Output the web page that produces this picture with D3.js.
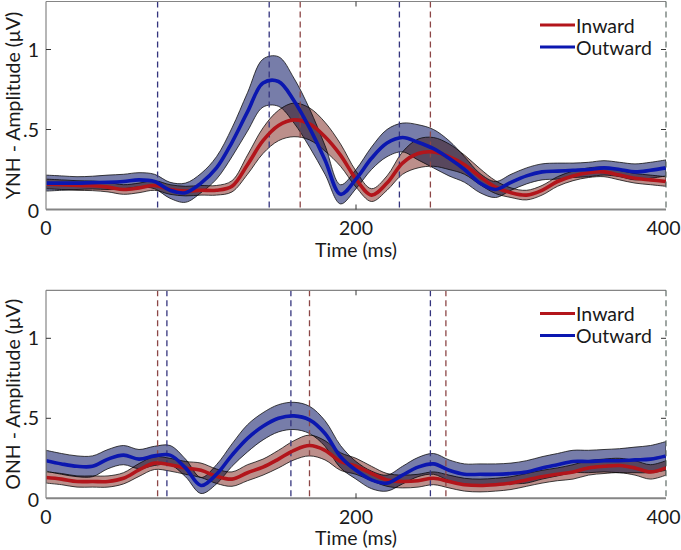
<!DOCTYPE html>
<html><head><meta charset="utf-8">
<script src="https://cdn.jsdelivr.net/npm/d3@7"></script>
<style>
body{margin:0;background:#fff}
svg{display:block}
text{font-family:Lato,"Open Sans",sans-serif;fill:#1a1a1a;font-size:19.5px}
</style>
</head><body>
<svg id="chart" width="681" height="550"></svg>
<script>
// ---------- data ----------
const timeMs = [0,10,20,30,40,50,60,70,80,90,100,110,120,130,140,150,160,170,180,190,200,
                210,220,230,240,250,260,270,280,290,300,310,320,330,340,350,360,370,380,390,400];

const ynhInMean  = [0.16,0.155,0.15,0.148,0.14,0.125,0.135,0.15,0.125,0.115,0.12,0.12,0.145,0.28,0.43,0.525,0.56,0.535,0.455,0.34,0.19,
                    0.09,0.165,0.29,0.35,0.36,0.33,0.28,0.205,0.14,0.105,0.09,0.12,0.175,0.21,0.23,0.235,0.215,0.195,0.185,0.175];
const ynhInHW    = [0.03,0.03,0.03,0.03,0.03,0.03,0.03,0.03,0.03,0.03,0.03,0.03,0.035,0.06,0.08,0.095,0.105,0.1,0.09,0.07,0.05,
                    0.04,0.045,0.07,0.09,0.09,0.08,0.06,0.05,0.04,0.03,0.03,0.03,0.03,0.03,0.03,0.03,0.03,0.03,0.03,0.03];
const ynhOutMean = [0.165,0.165,0.165,0.168,0.17,0.175,0.185,0.175,0.12,0.105,0.165,0.26,0.42,0.61,0.79,0.8,0.68,0.51,0.31,0.095,0.19,
                    0.32,0.415,0.45,0.42,0.38,0.32,0.25,0.165,0.125,0.17,0.21,0.235,0.24,0.245,0.25,0.26,0.25,0.235,0.245,0.26];
const ynhOutHW   = [0.05,0.045,0.04,0.04,0.045,0.045,0.045,0.045,0.05,0.06,0.06,0.07,0.09,0.12,0.15,0.155,0.14,0.12,0.09,0.06,0.06,
                    0.07,0.085,0.09,0.11,0.12,0.11,0.08,0.06,0.05,0.05,0.05,0.05,0.05,0.045,0.045,0.045,0.045,0.05,0.05,0.05];

const onhInMean  = [0.13,0.12,0.105,0.105,0.105,0.125,0.177,0.22,0.21,0.19,0.175,0.138,0.12,0.16,0.195,0.245,0.3,0.33,0.3,0.23,0.2,
                    0.155,0.115,0.105,0.11,0.125,0.105,0.085,0.08,0.085,0.095,0.115,0.135,0.15,0.165,0.19,0.2,0.205,0.19,0.165,0.19];
const onhInHW    = [0.035,0.035,0.035,0.035,0.035,0.035,0.04,0.04,0.04,0.04,0.045,0.045,0.045,0.05,0.05,0.055,0.06,0.065,0.06,0.055,0.05,
                    0.045,0.04,0.04,0.04,0.04,0.04,0.04,0.04,0.04,0.04,0.04,0.04,0.04,0.045,0.045,0.045,0.045,0.045,0.045,0.045];
const onhOutMean = [0.235,0.215,0.2,0.2,0.245,0.27,0.245,0.265,0.27,0.19,0.08,0.15,0.27,0.375,0.45,0.5,0.515,0.49,0.405,0.26,0.175,
                    0.115,0.095,0.145,0.195,0.215,0.175,0.15,0.15,0.15,0.155,0.165,0.19,0.21,0.23,0.23,0.235,0.235,0.24,0.245,0.265];
const onhOutHW   = [0.065,0.065,0.065,0.065,0.06,0.06,0.06,0.06,0.06,0.055,0.05,0.06,0.07,0.085,0.085,0.085,0.085,0.085,0.08,0.07,0.055,
                    0.055,0.05,0.055,0.06,0.065,0.065,0.065,0.065,0.065,0.065,0.07,0.07,0.07,0.07,0.07,0.07,0.075,0.08,0.085,0.09];

const ynhInPeaks  = [164, 248];
const ynhOutPeaks = [72, 144, 228];
const onhInPeaks  = [72, 170, 258];
const onhOutPeaks = [78, 158, 248];

const xTicks = [0, 200, 400];
const xTickLabels = ["0", "200", "400"];
const yTicks = [0, 0.5, 1];
const yTickLabels = ["0", ".5", "1"];
const seriesNames = ["Inward", "Outward"];

// ---------- style ----------
const C = {
  inLine: "#b3151b", outLine: "#0b17b0",
  inFill: "#7a2018", outFill: "#1c2670",
  inDash: "#8c4646", outDash: "#34347e",
  axis: "#858585"
};

const svg = d3.select("#chart");
const X0 = 46, X1 = 666;

const panels = [
  {top: 1.5, bottom: 209.5, label: "YNH - Amplitude (\u03BCV)",
   inM: ynhInMean, inH: ynhInHW, outM: ynhOutMean, outH: ynhOutHW,
   inP: ynhInPeaks, outP: ynhOutPeaks, legY: 25, tickBase: 235, titleBase: 257},
  {top: 290.3, bottom: 498.3, label: "ONH - Amplitude (\u03BCV)",
   inM: onhInMean, inH: onhInHW, outM: onhOutMean, outH: onhOutHW,
   inP: onhInPeaks, outP: onhOutPeaks, legY: 313.5, tickBase: 523.5, titleBase: 545}
];

panels.forEach((p, pi) => {
  const x = d3.scaleLinear().domain([0, 400]).range([X0, X1]);
  const y = d3.scaleLinear().domain([0, 1.3]).range([p.bottom, p.top]);
  const g = svg.append("g");
  const clipId = "clip" + pi;
  svg.append("clipPath").attr("id", clipId).append("rect")
    .attr("x", X0).attr("y", p.top).attr("width", X1 - X0).attr("height", p.bottom - p.top);
  const plot = g.append("g").attr("clip-path", `url(#${clipId})`).style("isolation", "isolate");

  const curve = d3.curveCatmullRom.alpha(0.5);
  const area = (m, h) => d3.area().curve(curve)
      .x((d, i) => x(timeMs[i])).y0((d, i) => y(m[i] - h[i])).y1((d, i) => y(m[i] + h[i]))(m);
  const line = (m) => d3.line().curve(curve).x((d, i) => x(timeMs[i])).y(d => y(d))(m);

  // bands
  plot.append("path").attr("d", area(p.inM, p.inH))
    .attr("fill", C.inFill).attr("fill-opacity", 0.5).attr("stroke", "#111").attr("stroke-width", 0.8);
  plot.append("path").attr("d", area(p.outM, p.outH))
    .attr("fill", C.outFill).attr("fill-opacity", 0.6).style("mix-blend-mode", "multiply")
    .attr("stroke", "#111").attr("stroke-width", 0.8);

  // dashed peak lines
  const vline = (t, col) => plot.append("line")
    .attr("x1", x(t)).attr("x2", x(t)).attr("y1", p.top).attr("y2", p.bottom)
    .attr("stroke", col).attr("stroke-width", 1.3).attr("stroke-dasharray", "6,4");
  p.inP.forEach(t => vline(t, C.inDash));
  p.outP.forEach(t => vline(t, C.outDash));

  // mean lines
  plot.append("path").attr("d", line(p.inM)).attr("fill", "none")
    .attr("stroke", C.inLine).attr("stroke-width", 3.6).attr("stroke-linejoin", "round");
  plot.append("path").attr("d", line(p.outM)).attr("fill", "none")
    .attr("stroke", C.outLine).attr("stroke-width", 3.6).attr("stroke-linejoin", "round");

  // frame
  g.append("line").attr("x1", X0).attr("x2", X1).attr("y1", p.top).attr("y2", p.top)
    .attr("stroke", C.axis).attr("stroke-width", 1.2);
  g.append("line").attr("x1", X0).attr("x2", X0).attr("y1", p.top).attr("y2", p.bottom)
    .attr("stroke", C.axis).attr("stroke-width", 1.2);
  g.append("line").attr("x1", X1).attr("x2", X1).attr("y1", p.top).attr("y2", p.bottom)
    .attr("stroke", "#5f6b66").attr("stroke-width", 1.2).attr("stroke-dasharray", "6,4");
  g.append("line").attr("x1", X0).attr("x2", X1).attr("y1", p.bottom).attr("y2", p.bottom)
    .attr("stroke", C.axis).attr("stroke-width", 2);

  // ticks (inside)
  yTicks.forEach((v, i) => {
    if (v > 0) {
      g.append("line").attr("x1", X0).attr("x2", X0 + 5).attr("y1", y(v)).attr("y2", y(v)).attr("stroke", "#333").attr("stroke-width", 1);
      g.append("line").attr("x1", X1).attr("x2", X1 - 5).attr("y1", y(v)).attr("y2", y(v)).attr("stroke", "#333").attr("stroke-width", 1);
    }
    g.append("text").attr("x", 39).attr("y", y(v) + (v === 0 ? 8.5 : 7)).attr("text-anchor", "end").text(yTickLabels[i]);
  });
  xTicks.forEach((v, i) => {
    if (v > 0 && v < 400) {
      g.append("line").attr("x1", x(v)).attr("x2", x(v)).attr("y1", p.bottom).attr("y2", p.bottom - 5).attr("stroke", "#333");
      g.append("line").attr("x1", x(v)).attr("x2", x(v)).attr("y1", p.top).attr("y2", p.top + 5).attr("stroke", "#333");
    }
    const lx = v === 400 ? x(v) - 2.5 : x(v);
    g.append("text").attr("x", lx).attr("y", p.tickBase).attr("text-anchor", "middle").text(xTickLabels[i]);
  });

  // axis titles
  g.append("text").attr("x", x(200)).attr("y", p.titleBase).attr("text-anchor", "middle").text("Time (ms)");
  g.append("text").attr("transform", `translate(20,${(p.top + p.bottom) / 2}) rotate(-90)`)
    .attr("text-anchor", "middle").text(p.label);

  // legend
  const legCols = [C.inLine, C.outLine];
  seriesNames.forEach((name, i) => {
    const ly = p.legY + i * 22;
    g.append("line").attr("x1", 540).attr("x2", 575).attr("y1", ly).attr("y2", ly)
      .attr("stroke", legCols[i]).attr("stroke-width", 3.2);
    g.append("text").attr("x", 576).attr("y", ly + 7.5).text(name);
  });
});
</script>
</body></html>
